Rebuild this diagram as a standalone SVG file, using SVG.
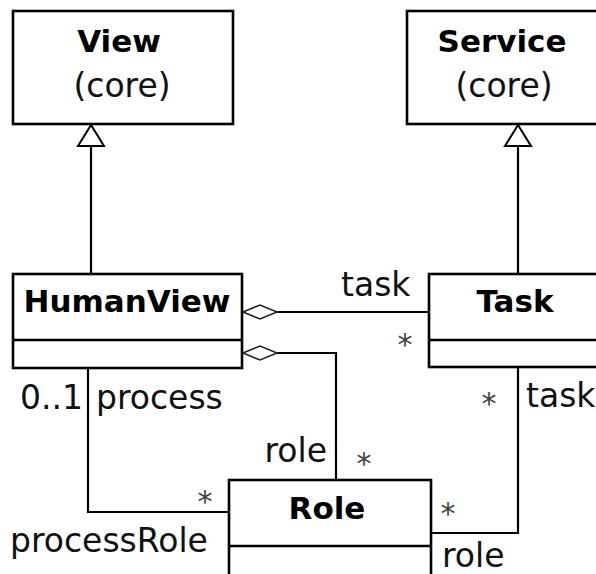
<svg xmlns="http://www.w3.org/2000/svg" width="596" height="574" viewBox="0 0 596 574">
<defs>
<style>
.box{fill:#fff;stroke:#000;stroke-width:2.6}
.ln{fill:none;stroke:#000;stroke-width:2.2}
.hd{fill:#fff;stroke:#000;stroke-width:2}
.dm{fill:#fff;stroke:#222;stroke-width:1.6}
.b{font-family:"DejaVu Sans",sans-serif;font-weight:bold;font-size:31px;text-anchor:middle;fill:#000}
.r{font-family:"DejaVu Sans",sans-serif;font-size:33px;fill:#111}
.m{text-anchor:middle}
.e{text-anchor:end}
.s{font-family:"DejaVu Sans",sans-serif;font-size:30px;fill:#444;text-anchor:middle}
</style>
</defs>
<rect width="596" height="574" fill="#fff"/>
<g id="connectors">
<path class="ln" d="M91 146 V274"/>
<polygon class="hd" points="91,125 78,146 104,146"/>
<path class="ln" d="M518 146 V274"/>
<polygon class="hd" points="518,125 505,146 531,146"/>
<path class="ln" d="M277 312 H429"/>
<polygon class="dm" points="243,312 260,305 277,312 260,319"/>
<path class="ln" d="M277 353 H336 V480"/>
<polygon class="dm" points="243,353 260,346 277,353 260,360"/>
<path class="ln" d="M88 368 V512 H229"/>
<path class="ln" d="M518 367 V533 H431"/>
<text class="r" x="341" y="296">task</text>
<text class="s" x="405" y="355">*</text>
<text class="r" x="20" y="409">0..1</text>
<text class="r" x="96" y="409">process</text>
<text class="s" x="489" y="414">*</text>
<text class="r" x="526" y="407">task</text>
<text class="r e" x="327" y="462">role</text>
<text class="s" x="205" y="512">*</text>
<text class="s" x="364" y="474">*</text>
<text class="r" x="10" y="552">processRole</text>
<text class="s" x="448" y="524">*</text>
<text class="r" x="442" y="567">role</text>
</g>
<g id="View">
<rect class="box" x="13" y="11" width="220" height="113"/>
<text class="b" x="119" y="52">View</text>
<text class="r m" x="122" y="97">(core)</text>
</g>
<g id="Service">
<rect class="box" x="407" y="11" width="200" height="113"/>
<text class="b" x="502" y="52">Service</text>
<text class="r m" x="504" y="97">(core)</text>
</g>
<g id="HumanView">
<rect class="box" x="13" y="274" width="229" height="94"/>
<line class="box" x1="13" y1="340" x2="242" y2="340"/>
<text class="b" x="127" y="312">HumanView</text>
</g>
<g id="Task">
<rect class="box" x="429" y="274" width="180" height="93"/>
<line class="box" x1="429" y1="340" x2="609" y2="340"/>
<text class="b" x="515" y="312">Task</text>
</g>
<g id="Role">
<rect class="box" x="229" y="480" width="202" height="110"/>
<line class="box" x1="229" y1="546" x2="431" y2="546"/>
<text class="b" x="327" y="519">Role</text>
</g>
</svg>
